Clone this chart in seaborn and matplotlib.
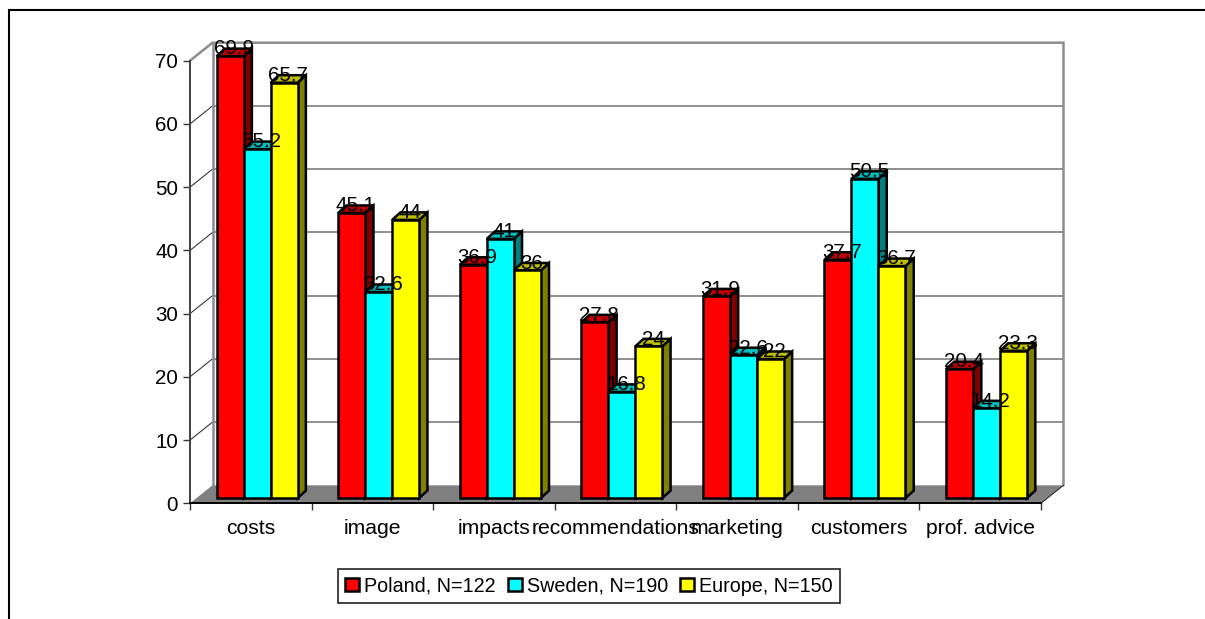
import matplotlib
matplotlib.use("Agg")
import matplotlib.pyplot as plt
from matplotlib.lines import Line2D
from matplotlib.patches import Patch, Polygon
import pandas as pd
import seaborn as sns

# Survey shares per barrier category
categories = ["costs", "image", "impacts", "recommendations", "marketing", "customers", "prof. advice"]
poland = [69.9, 45.1, 36.9, 27.8, 31.9, 37.7, 20.4]
sweden = [55.2, 32.6, 41, 16.8, 22.6, 50.5, 14.2]
europe = [65.7, 44, 36, 24, 22, 36.7, 23.3]
series_names = ["Poland, N=122", "Sweden, N=190", "Europe, N=150"]
front_colors = ["#FF0000", "#00FFFF", "#FFFF00"]
side_colors = ["#800000", "#008080", "#808000"]
top_colors = ["#C00000", "#00C0C0", "#C0C000"]
y_ticks = [0, 10, 20, 30, 40, 50, 60, 70]

W, H = 1205, 619
AX_L, AX_R, AX_BOTTOM, AX_TOP = 190.0, 1041.0, 503.3, 60.7
EDGE_LW = 1.8

sns.set_style("white")
plt.rcParams["font.family"] = ["Liberation Sans", "DejaVu Sans"]

fig = plt.figure(figsize=(W / 100, H / 100), dpi=100)
ax = fig.add_axes([AX_L / W, 1 - AX_BOTTOM / H, (AX_R - AX_L) / W, (AX_BOTTOM - AX_TOP) / H])
ax.set_facecolor("none")

frame = pd.DataFrame({
    "category": categories * 3,
    "series": sum(([n] * len(categories) for n in series_names), []),
    "value": poland + sweden + europe,
})
sns.barplot(
    data=frame, x="category", y="value", hue="series", order=categories,
    hue_order=series_names, palette=front_colors, saturation=1, width=0.666,
    gap=0, edgecolor="black", linewidth=EDGE_LW, legend=False, ax=ax,
)
n_cat = len(categories)
ax.set_xlim(-0.5, n_cat - 0.5)
ax.set_ylim(0, 70)


def px_x(p):
    return p * n_cat / (AX_R - AX_L)


def px_y(p):
    return p * 70 / (AX_BOTTOM - AX_TOP)


# Oblique projection of the back wall, the bars and their tops
wall_dx, wall_dy = px_x(22.5), px_y(18)
front_dx, front_dy = px_x(6.3), px_y(5.2)
bar_dx, bar_dy = px_x(8.3), px_y(7.5)
x0, x1 = -0.5, n_cat - 0.5

ax.add_patch(Polygon(
    [(x0, 0), (x0 + wall_dx, wall_dy), (x1 + wall_dx, wall_dy), (x1, 0)],
    closed=True, facecolor="#808080", edgecolor="none", zorder=1, clip_on=False,
))
for v in y_ticks[1:-1]:
    ax.plot([x0 + wall_dx, x1 + wall_dx], [v + wall_dy] * 2, color="#707070", lw=1.1,
            zorder=2, clip_on=False, solid_capstyle="butt")
    ax.plot([x0, x0 + wall_dx], [v, v + wall_dy], color="#202020", lw=0.7, zorder=2, clip_on=False)
ax.plot([x0, x0 + wall_dx, x1 + wall_dx, x1 + wall_dx], [70, 70 + wall_dy, 70 + wall_dy, wall_dy],
        color="#8c8c8c", lw=1.8, zorder=2, clip_on=False, solid_joinstyle="miter")
ax.plot([x0 + wall_dx, x0 + wall_dx], [wall_dy, 70 + wall_dy], color="#8c8c8c", lw=1.8, zorder=2, clip_on=False)
ax.plot([x1, x1 + wall_dx], [0, wall_dy], color="#202020", lw=0.7, zorder=2, clip_on=False)

for i, container in enumerate(ax.containers):
    z = 5 + i
    for bar in container:
        bar.set_x(bar.get_x() + front_dx)
        bar.set_y(bar.get_y() + front_dy)
        bar.set_zorder(z + 0.2)
        bar.set_clip_on(False)
        bar.set_joinstyle("miter")
        left, bottom = bar.get_x(), bar.get_y()
        right, top = left + bar.get_width(), bottom + bar.get_height()
        ax.add_patch(Polygon(
            [(right, bottom), (right + bar_dx, bottom + bar_dy),
             (right + bar_dx, top + bar_dy), (right, top)],
            closed=True, facecolor=side_colors[i], edgecolor="black", lw=EDGE_LW,
            zorder=z, clip_on=False, joinstyle="miter",
        ))
        ax.add_patch(Polygon(
            [(left, top), (left + bar_dx, top + bar_dy),
             (right + bar_dx, top + bar_dy), (right, top)],
            closed=True, facecolor=top_colors[i], edgecolor="black", lw=EDGE_LW,
            zorder=z, clip_on=False, joinstyle="miter",
        ))
        ax.annotate(
            f"{bar.get_height():g}",
            xy=(left + bar.get_width() / 2 + bar_dx / 2, top),
            xytext=(0, 1.2), textcoords="offset points",
            ha="center", va="baseline", fontsize=14.8, color="black",
            zorder=20, annotation_clip=False,
        )

# Axes: ticks sit on category boundaries, labels between them
sns.despine(ax=ax, top=True, right=True)
ax.spines["left"].set(color="#404040", linewidth=1.4, zorder=3)
ax.spines["bottom"].set(color="black", linewidth=1.4, zorder=3)
ax.set_xlabel("")
ax.set_ylabel("")
ax.set_yticks(y_ticks)
ax.set_xticks([c - 0.5 for c in range(n_cat + 1)])
ax.set_xticklabels([])
ax.set_xticks(range(n_cat), categories, minor=True)
ax.tick_params(axis="x", which="major", bottom=True, length=5, width=1.0, color="#333333")
ax.tick_params(axis="x", which="minor", bottom=False, length=0, pad=11.5, labelsize=15.2, labelcolor="black")
ax.tick_params(axis="y", left=True, length=5, width=1.0, color="#333333", pad=3.5, labelsize=14.8, labelcolor="black")

handles = [Patch(facecolor=c, edgecolor="black", linewidth=EDGE_LW) for c in front_colors]
legend = fig.legend(
    handles, series_names, ncol=3, loc="center",
    bbox_to_anchor=(589 / W, 1 - 586 / H), fontsize=14.2, frameon=True, fancybox=False,
    edgecolor="#222222", framealpha=1, handlelength=0.72, handleheight=0.68,
    handletextpad=0.25, columnspacing=0.6, borderpad=0.36, labelspacing=0,
    borderaxespad=0,
)
legend.get_frame().set_linewidth(1.2)
for t in legend.get_texts():
    t.set_color("black")

# Outer rule along the top and left of the sheet
fig.add_artist(Line2D([8.5 / W, 8.5 / W, 1], [0, 1 - 10 / H, 1 - 10 / H],
                      transform=fig.transFigure, color="black", lw=1.5,
                      solid_joinstyle="miter"))

fig.savefig("out.png", dpi=100, facecolor="white")
